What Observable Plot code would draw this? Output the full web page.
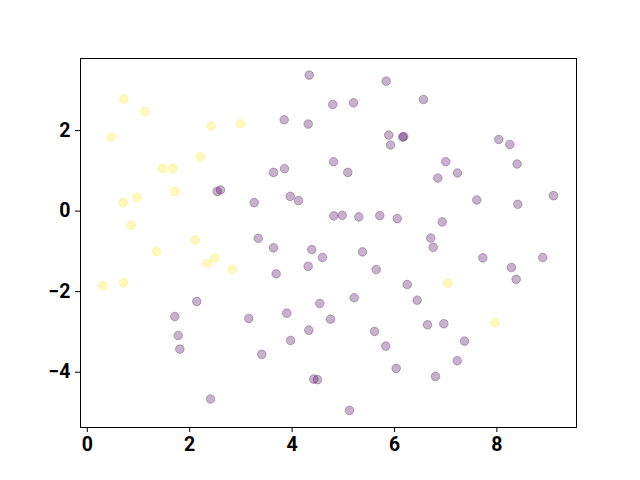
<!DOCTYPE html>
<html>
<head>
<meta charset="utf-8">
<script src="https://cdn.jsdelivr.net/npm/d3@7"></script>
<script src="https://cdn.jsdelivr.net/npm/@observablehq/plot@0.6"></script>
<style>
  html, body { margin: 0; padding: 0; background: #fff; }
</style>
</head>
<body>
<div id="chart"></div>
<script>
// Class 0 (purple) and class 1 (yellow) point coordinates
const purpleX = [4.334, 5.838, 4.795, 5.199, 3.846, 4.314, 5.889, 6.16, 6.18, 5.922,
  4.809, 5.088, 3.637, 3.852, 3.260, 3.963, 4.125, 4.814, 4.979, 5.303,
  5.713, 6.053, 6.566, 8.037, 8.252, 8.396, 7.002, 7.230, 6.846, 7.607,
  8.408, 9.105, 6.932, 6.709, 6.756, 3.338, 3.637, 4.385, 4.594, 5.375,
  5.643, 4.314, 3.689, 6.248, 5.213, 4.541, 3.896, 3.154, 4.750, 4.326,
  3.969, 5.609, 5.830, 3.408, 6.033, 4.424, 4.496, 5.121, 7.725, 8.896,
  8.285, 8.377, 6.443, 6.645, 6.963, 7.367, 7.225, 6.801, 2.139, 1.709,
  1.775, 1.807, 2.406, 2.537, 2.602];
const purpleY = [3.377, 3.228, 2.648, 2.690, 2.269, 2.162, 1.889, 1.84, 1.85, 1.641,
  1.227, 0.962, 0.962, 1.054, 0.211, 0.367, 0.260, -0.119, -0.104, -0.144,
  -0.112, -0.186, 2.772, 1.780, 1.656, 1.170, 1.227, 0.947, 0.823, 0.278,
  0.169, 0.384, -0.268, -0.669, -0.898, -0.674, -0.912, -0.955, -1.153, -1.012,
  -1.451, -1.369, -1.557, -1.822, -2.152, -2.294, -2.534, -2.666, -2.683, -2.956,
  -3.211, -2.988, -3.352, -3.558, -3.905, -4.171, -4.185, -4.947, -1.160, -1.153,
  -1.401, -1.691, -2.212, -2.822, -2.797, -3.228, -3.714, -4.104, -2.244, -2.616,
  -3.087, -3.427, -4.666, 0.491, 0.526];
const yellowX = [0.303, 0.467, 0.713, 0.701, 0.707, 0.857, 0.967, 1.123, 1.352, 1.469,
  1.670, 1.709, 2.107, 2.211, 2.342, 2.420, 2.490, 2.830, 2.992, 7.041, 7.967];
const yellowY = [-1.847, 1.840, 2.782, 0.211, -1.773, -0.352, 0.342, 2.467, -1.004, 1.061,
  1.061, 0.491, -0.719, 1.351, -1.294, 2.113, -1.170, -1.443, 2.170, -1.790, -2.772];
const xTicks = [0, 2, 4, 6, 8];
const yTicks = [-4, -2, 0, 2];

const points = [
  ...purpleX.map((x, i) => ({x, y: purpleY[i], c: 0})),
  ...yellowX.map((x, i) => ({x, y: yellowY[i], c: 1}))
];

const font = "Roboto, 'DejaVu Sans', sans-serif";
const chart = Plot.plot({
  width: 640,
  height: 480,
  marginLeft: 80,
  marginRight: 64,
  marginTop: 58,
  marginBottom: 53,
  style: {fontFamily: font, background: "#fff"},
  x: {domain: [-0.133, 9.555]},
  y: {domain: [-5.373, 3.79]},
  color: {domain: [0, 1], range: ["#440154", "#fde725"]},
  marks: [
    Plot.dot(points, {x: "x", y: "y", r: 4.3, fill: "c", stroke: "c",
      fillOpacity: 0.3, strokeOpacity: 0.3, strokeWidth: 1}),
    Plot.frame({stroke: "black", strokeWidth: 1}),
    Plot.axisX({ticks: xTicks, tickSize: 5, tickPadding: 5, fontSize: 19.5,
      fontWeight: "bold", label: null, tickFormat: d3.format("d")}),
    Plot.axisY({ticks: yTicks, tickSize: 5, tickPadding: 5, fontSize: 19.5,
      fontWeight: "bold", label: null, tickFormat: d3.format("d")})
  ]
});
chart.querySelectorAll("text").forEach(t => { t.style.fill = "#000"; });
document.getElementById("chart").appendChild(chart);
</script>
</body>
</html>
